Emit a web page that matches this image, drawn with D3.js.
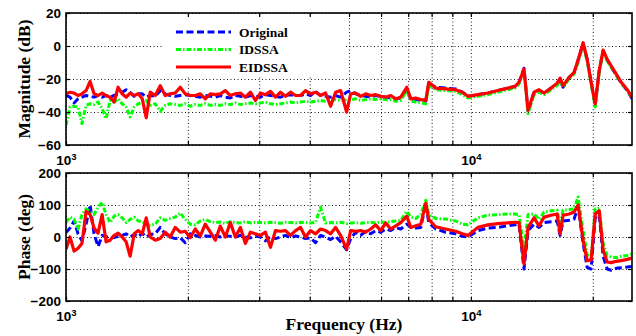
<!DOCTYPE html>
<html>
<head>
<meta charset="utf-8">
<script src="https://cdn.jsdelivr.net/npm/d3@7"></script>
<style>
  html, body { margin: 0; padding: 0; background: #fff; }
  svg { display: block; }
</style>
</head>
<body>
<svg id="chart" width="636" height="336"></svg>
<script>
// frequency points (Hz), shared by all curves
const freq = [1000,1023,1047,1071,1095,1121,1147,1173,1200,1228,
  1256,1285,1315,1345,1376,1408,1440,1474,1508,1543,
  1578,1614,1661,1709,1758,1809,1861,1915,1970,2027,
  2086,2146,2208,2272,2338,2405,2475,2546,2620,2696,
  2774,2854,2937,3022,3109,3199,3291,3386,3484,3585,
  3689,3795,3905,4018,4134,4253,4376,4503,4633,4767,
  4933,5047,5193,5342,5497,5656,5819,5988,6161,6339,
  6522,6711,6944,7104,7309,7521,7738,7870,8185,8660,
  9170,9530,9830,10405,11015,11660,12340,12850,13150,13528,
  13840,14322,14736,15162,15780,16330,16610,16895,17482,17988,
  18400,18934,19371,19815,20280,20745,21215,21705,22207,22857,
  23517,24334,25000];

// magnitude (dB)
const magOriginal = [-30,-31,-34.5,-32,-31,-30,-30.5,-31,-30,-31,
  -30,-31,-30,-29,-28,-26.5,-28,-30.5,-29,-29,
  -31,-30,-30.5,-27,-29,-30,-30.5,-30,-29.5,-30,
  -30.5,-31,-30,-30.5,-31,-30,-31,-31.5,-30,-30.5,
  -31,-30,-30.5,-31,-29.5,-30,-30.5,-31,-30,-29.5,
  -30,-30,-29,-30,-27.5,-30,-30.5,-31,-30,-31,
  -28,-27,-29,-30,-30.5,-31,-30,-30.5,-31,-31.5,
  -32,-31.5,-26,-32,-32.5,-33,-33.5,-22.5,-25,-25.5,
  -26,-28,-30.5,-29.5,-28.5,-27,-25.5,-24.5,-22,-13.5,
  -40,-28,-27,-28.5,-25.5,-23,-21,-25,-19,-16,
  -8.5,1.5,-8,-22,-36,-15,-3,-8.5,-12.5,-17.5,
  -22.5,-27,-32];

const magIDSSA = [-48,-37,-36.5,-37,-47,-36,-35,-35.5,-34,-38,
  -44,-33,-34,-32,-35,-37,-43,-37,-35,-34,
  -33,-36,-35,-39.5,-36,-35,-35.5,-36,-35,-36.5,
  -35.5,-36,-35,-36,-35.5,-36,-35,-35.5,-34.5,-35.5,
  -35,-34.5,-35,-34.5,-34,-35,-35.5,-35,-34.5,-34,
  -34.5,-34,-33.5,-34,-33.5,-33,-33.5,-33,-32.5,-33,
  -32.5,-32.5,-32,-33,-32.5,-32,-32.5,-32,-32.5,-32.5,
  -33.5,-33,-27,-33.5,-34,-34.5,-35,-24,-26.5,-27,
  -27.5,-29.5,-31.5,-30.5,-29.5,-28,-26.5,-25.5,-23,-15,
  -41,-29.5,-28,-29.5,-26.5,-24,-20.5,-25,-20,-17,
  -10,0.5,-9,-23,-37,-16,-3.5,-9,-13,-18,
  -22.5,-27,-31.5];

const magEIDSSA = [-29,-28,-28.5,-30,-29,-27,-21.5,-29,-30,-28.5,
  -30,-31,-34,-25,-29,-31,-28.5,-30,-29,-32,
  -43.5,-28,-30,-24,-30,-29,-28.5,-25,-29,-30,
  -30,-29,-32,-29,-29.5,-29,-27,-30,-29,-28.5,
  -31,-28,-33,-28.5,-29.5,-27.5,-31,-28,-30.5,-28,
  -30,-30,-27,-29,-28,-30,-28.5,-36.5,-28,-27,
  -40,-29,-28.5,-30.5,-29,-30,-29.5,-30.5,-31,-30,
  -32,-31,-25,-32,-31.5,-32.5,-33,-22,-25.5,-26,
  -26.5,-28,-30.5,-29.5,-28.5,-27,-25.5,-24.5,-22,-14,
  -39,-28,-26.5,-28.5,-25.5,-22.5,-19.5,-24,-19,-16,
  -8.5,2,-8,-22,-35,-15,-2.5,-8,-12,-17,
  -22,-26.5,-31];

// phase (deg)
const phaseOriginal = [14,28,50,10,-12,40,100,10,-30,5,
  0,0,-2,2,5,10,0,8,0,12,
  0,8,10,30,10,0,-5,-2,-18,10,
  5,0,3,2,5,0,5,2,0,5,
  0,-3,3,0,-12,2,-5,0,5,-2,
  3,0,-5,-3,-18,5,0,-8,2,-15,
  -40,-5,15,5,18,10,20,15,25,20,
  30,25,40,30,28,30,105,45,25,15,
  10,2,0,20,28,30,35,38,40,-100,
  20,40,30,45,48,50,5,50,52,56,
  95,-20,-95,-100,60,70,-60,-100,-104,-98,
  -96,-94,-92];

const phaseIDSSA = [46,62,55,25,70,88,80,70,93,108,
  70,45,65,70,60,45,55,62,50,48,
  40,36,40,60,52,58,62,75,55,40,
  38,50,55,48,45,47,42,48,45,44,
  48,44,46,45,44,46,45,43,46,45,
  44,46,45,44,46,93,44,45,44,46,
  42,44,45,43,45,46,44,47,45,48,
  50,52,80,62,58,70,115,70,58,56,
  50,40,38,60,68,70,72,72,70,-40,
  70,72,55,78,82,84,40,84,86,88,
  125,20,-55,-65,88,90,-20,-58,-62,-65,
  -60,-58,-52];

const phaseEIDSSA = [-38,0,-44,-35,-20,80,70,28,12,70,
  -15,-10,5,12,0,-15,-60,10,20,10,
  60,0,-10,-5,15,0,30,15,18,-2,
  25,3,40,15,-10,34,0,45,0,30,
  -20,15,10,5,15,-32,20,18,20,5,
  20,30,0,20,10,25,20,10,30,5,
  -38,20,18,20,15,25,38,20,44,25,
  35,45,65,30,35,40,105,55,32,25,
  18,10,5,30,38,42,44,46,45,-84,
  30,60,35,62,68,72,10,68,72,78,
  100,-10,-74,-72,72,82,-40,-78,-80,-76,
  -74,-70,-66];

const seriesNames = ['Original', 'IDSSA', 'EIDSSA'];
const magTicks = [20, 0, -20, -40, -60];
const phaseTicks = [200, 100, 0, -100, -200];
const freqGrid = [1000, 2000, 3000, 4000, 5000, 6000, 7000, 8000, 9000, 10000, 20000];

const styles = {
  Original: { color: '#0000ff', dash: '7,3.5', width: 3 },
  IDSSA:    { color: '#00ff00', dash: '5,2,1.5,2', width: 3 },
  EIDSSA:   { color: '#ff0000', dash: null, width: 3.2 }
};

const serif = '"Liberation Serif", "Times New Roman", serif';
const sans = '"Liberation Sans", Arial, sans-serif';

const svg = d3.select('#chart');
const left = 66, right = 632;

const x = d3.scaleLog().domain([1000, 25000]).range([left, right]);

function drawPanel(id, top, bottom, domain, ticks, series, label, withLegend) {
  const y = d3.scaleLinear().domain(domain).range([bottom, top]);
  const g = svg.append('g');

  g.append('clipPath').attr('id', 'clip-' + id)
    .append('rect')
    .attr('x', left).attr('y', top)
    .attr('width', right - left).attr('height', bottom - top);

  // dotted grid
  const gx = g.append('g')
    .attr('transform', `translate(0,${bottom})`)
    .call(d3.axisBottom(x).tickValues(freqGrid).tickSize(-(bottom - top)).tickFormat(''));
  const gy = g.append('g')
    .attr('transform', `translate(${left},0)`)
    .call(d3.axisLeft(y).tickValues(ticks).tickSize(-(right - left)).tickFormat(''));
  [gx, gy].forEach(a => {
    a.select('.domain').remove();
    a.selectAll('line')
      .attr('stroke', '#000')
      .attr('stroke-width', 0.9)
      .attr('stroke-dasharray', '1,2.5');
  });

  // curves
  const line = d3.line()
    .x((d, i) => x(freq[i]))
    .y(d => y(d));

  const curves = g.append('g').attr('clip-path', `url(#clip-${id})`);
  series.forEach(s => {
    const st = styles[s.name];
    curves.append('path')
      .datum(s.values)
      .attr('d', line)
      .attr('fill', 'none')
      .attr('stroke', st.color)
      .attr('stroke-width', st.width)
      .attr('stroke-linejoin', 'round')
      .attr('stroke-dasharray', st.dash);
  });

  if (withLegend) {
    const lg = g.append('g');
    lg.append('rect')
      .attr('x', 163).attr('y', 17)
      .attr('width', 183).attr('height', 60)
      .attr('fill', '#fff');
    seriesNames.forEach((name, i) => {
      const st = styles[name];
      const ly = 32 + i * 17.5;
      lg.append('line')
        .attr('x1', 176).attr('x2', 231)
        .attr('y1', ly).attr('y2', ly)
        .attr('stroke', st.color)
        .attr('stroke-width', st.width)
        .attr('stroke-dasharray', st.dash);
      lg.append('text')
        .attr('x', 239).attr('y', ly)
        .attr('dy', '0.35em')
        .style('font', `bold 13.5px ${serif}`)
        .text(name);
    });
  }

  // axes with inward ticks
  const styleAxis = a => {
    a.select('.domain').remove();
    a.selectAll('line').attr('stroke', '#000').attr('stroke-width', 1.2);
    a.selectAll('text')
      .attr('fill', '#000')
      .style('font', `bold 13.5px ${sans}`);
  };

  const yl = g.append('g').attr('transform', `translate(${left},0)`)
    .call(d3.axisLeft(y).tickValues(ticks).tickSize(-4).tickPadding(5));
  styleAxis(yl);
  const yr = g.append('g').attr('transform', `translate(${right},0)`)
    .call(d3.axisRight(y).tickValues(ticks).tickSize(-4).tickFormat(''));
  styleAxis(yr);
  const xt = g.append('g').attr('transform', `translate(0,${top})`)
    .call(d3.axisTop(x).tickValues(freqGrid).tickSize(-4).tickFormat(''));
  styleAxis(xt);
  const xb = g.append('g').attr('transform', `translate(0,${bottom})`)
    .call(d3.axisBottom(x).tickValues(freqGrid).tickSize(-4).tickPadding(10)
      .tickFormat(d => (d === 1000 || d === 10000) ? 'x' : ''));
  styleAxis(xb);
  xb.selectAll('text').each(function(d) {
    const t = d3.select(this);
    if (d !== 1000 && d !== 10000) return;
    t.text('');
    t.append('tspan').text('10');
    t.append('tspan')
      .attr('dy', '-0.45em')
      .style('font-size', '9.5px')
      .text(Math.round(Math.log10(d)));
  });

  g.append('rect')
    .attr('x', left).attr('y', top)
    .attr('width', right - left).attr('height', bottom - top)
    .attr('fill', 'none')
    .attr('stroke', '#000')
    .attr('stroke-width', 1.6);

  g.append('text')
    .attr('transform', `translate(24,${(top + bottom) / 2}) rotate(-90)`)
    .attr('text-anchor', 'middle')
    .attr('dy', '0.35em')
    .style('font', `bold 17.5px ${serif}`)
    .text(label);
}

drawPanel('mag', 13, 145, [-60, 20], magTicks, [
  { name: 'Original', values: magOriginal },
  { name: 'IDSSA', values: magIDSSA },
  { name: 'EIDSSA', values: magEIDSSA }
], 'Magnitude (dB)', true);

drawPanel('phase', 173, 301, [-200, 200], phaseTicks, [
  { name: 'Original', values: phaseOriginal },
  { name: 'IDSSA', values: phaseIDSSA },
  { name: 'EIDSSA', values: phaseEIDSSA }
], 'Phase (deg)', false);

svg.append('text')
  .attr('x', 344).attr('y', 330)
  .attr('text-anchor', 'middle')
  .style('font', `bold 17.5px ${serif}`)
  .text('Frequency (Hz)');
</script>
</body>
</html>
